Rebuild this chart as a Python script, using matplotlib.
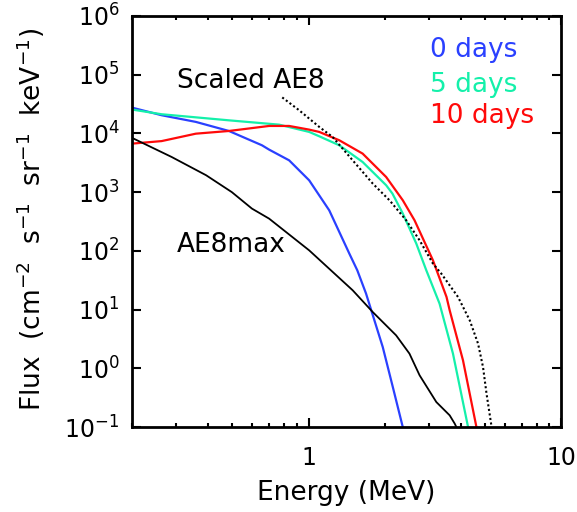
import matplotlib
matplotlib.use("Agg")
import matplotlib.pyplot as plt
from matplotlib.ticker import FixedLocator, LogLocator, NullLocator, NullFormatter

# Data (energy in MeV, flux)
e_0d = [0.2, 0.262, 0.358, 0.484, 0.654, 0.698, 0.838, 1.006, 1.208, 1.451, 1.56, 1.69,
        1.968, 2.157, 2.362]
f_0d = [2.75e4, 2.04e4, 1.57e4, 1.10e4, 6.28e3, 5.30e3, 3.48e3, 1.59e3, 490, 89.8, 46.7, 18.7,
        2.30, 0.48, 0.1]

e_5d = [0.2, 0.262, 0.484, 0.765, 1.006, 1.103, 1.324, 1.638, 2.03, 2.15, 2.363,
        2.672, 2.927, 3.304, 3.733, 4.284]
f_5d = [2.55e4, 2.12e4, 1.67e4, 1.41e4, 1.06e4, 8.93e3, 6.28e3, 3.26e3, 1.31e3, 944, 431,
        133, 46.7, 12.6, 1.78, 0.1]

e_10d = [0.2, 0.262, 0.358, 0.484, 0.698, 0.838, 1.006, 1.103, 1.324, 1.638, 2.03,
         2.363, 2.63, 3.11, 3.52, 3.623, 4.09, 4.624]
f_10d = [6.7e3, 7.4e3, 9.9e3, 1.10e4, 1.34e4, 1.34e4, 1.16e4, 1.06e4, 7.64e3, 4.53e3, 1.81e3,
         726, 331, 69.0, 16.4, 9.71, 1.37, 0.1]

e_ae8max = [0.2, 0.287, 0.393, 0.497, 0.597, 0.698, 1.006, 1.496, 1.796, 2.223, 2.51,
            2.754, 3.208, 3.623, 3.794, 3.85]
f_ae8max = [8.4e3, 3.97e3, 1.94e3, 1.0e3, 524, 354, 102, 21.3, 9.08, 3.64, 1.78,
            0.759, 0.266, 0.158, 0.114, 0.1]

e_scaled = [0.787, 0.918, 1.103, 1.246, 1.496, 1.796, 2.093, 2.438, 2.754, 3.11, 3.357,
            3.909, 4.35, 4.693, 4.91, 5.07, 5.31]
f_scaled = [4.1e4, 2.48e4, 1.29e4, 8.69e3, 3.48e3, 1.40e3, 726, 331, 151, 60.7, 40.9,
            16.4, 6.56, 2.63, 1.05, 0.37, 0.1]

series_labels = ["0 days", "5 days", "10 days"]
series_colors = ["#2a40ff", "#14f0aa", "#ff0a0a"]

plt.rcParams['font.family'] = ['DejaVu Sans']
plt.rcParams['mathtext.default'] = 'regular'

fig = plt.figure(figsize=(5.77, 5.12), dpi=100)
ax = fig.add_axes([0.2288, 0.166, 0.7435, 0.8028])

ax.plot(e_0d, f_0d, color=series_colors[0], lw=1.6)
ax.plot(e_5d, f_5d, color=series_colors[1], lw=1.6)
ax.plot(e_10d, f_10d, color=series_colors[2], lw=1.6)
ax.plot(e_ae8max, f_ae8max, color="black", lw=1.3)
ax.plot(e_scaled, f_scaled, color="black", lw=1.5, linestyle=(0, (1, 1.2)))

ax.set_xscale("log")
ax.set_yscale("log")
ax.set_xlim(0.2, 10)
ax.set_ylim(0.1, 1e6)

ax.xaxis.set_major_locator(FixedLocator([1, 10]))
ax.set_xticklabels(["1", "10"])
ax.xaxis.set_minor_locator(LogLocator(base=10, subs=range(2, 10)))
ax.xaxis.set_minor_formatter(NullFormatter())
ax.yaxis.set_major_locator(LogLocator(base=10, numticks=10))
ax.yaxis.set_minor_locator(NullLocator())

ax.tick_params(which="both", direction="in", top=True, right=True, labelsize=17, width=1.5)
ax.tick_params(which="major", length=6.5)
ax.tick_params(which="minor", length=3)
ax.tick_params(axis="x", which="major", pad=14)
ax.tick_params(axis="y", which="major", pad=9)
for s in ax.spines.values():
    s.set_linewidth(2)

fig.text(346 / 577, 1 - 493 / 512, "Energy (MeV)", fontsize=19, ha="center", va="center")
fig.text(31 / 577, 1 - 219 / 512, "Flux  (cm$^{-2}$  s$^{-1}$  sr$^{-1}$  keV$^{-1}$)",
         fontsize=19, rotation=90, ha="center", va="center")

ax.text(0.105, 0.825, "Scaled AE8", transform=ax.transAxes, fontsize=19, va="baseline")
ax.text(0.105, 0.426, "AE8max", transform=ax.transAxes, fontsize=19, va="baseline")
for lab, col, yy in zip(series_labels, series_colors, [0.900, 0.815, 0.740]):
    ax.text(0.695, yy, lab, transform=ax.transAxes, fontsize=19, color=col, va="baseline")

fig.savefig("out.png", dpi=100)
